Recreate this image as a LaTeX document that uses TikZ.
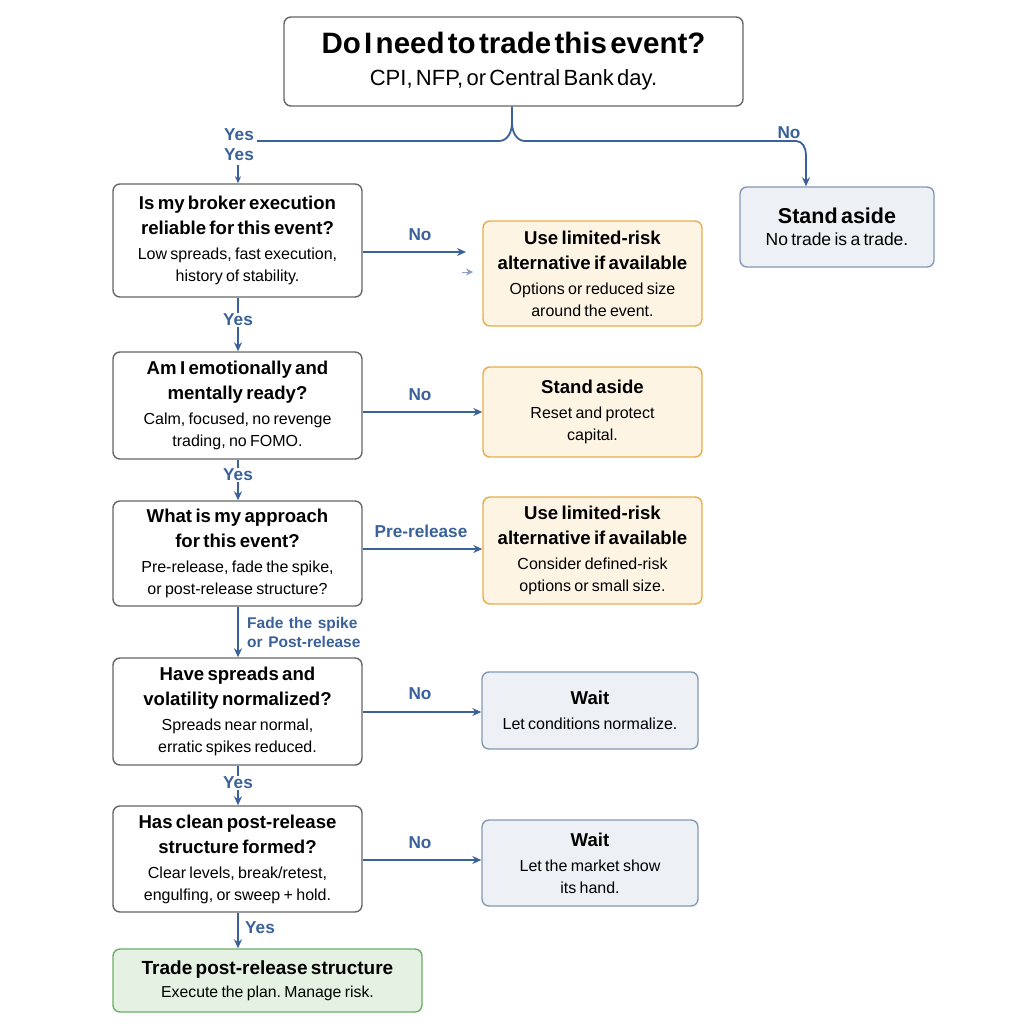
\documentclass[tikz,border=0pt]{standalone}
\usepackage{fontspec}
\setmainfont[WordSpace=1.3]{Liberation Sans}
\usetikzlibrary{arrows.meta}
\frenchspacing
\definecolor{ac}{HTML}{3A6199}
\definecolor{gb}{HTML}{666666}
\definecolor{ob}{HTML}{E9AC4C}
\definecolor{of}{HTML}{FDF4E4}
\definecolor{bb}{HTML}{8599B6}
\definecolor{bf}{HTML}{EDF1F6}
\definecolor{grb}{HTML}{6DAE69}
\definecolor{grf}{HTML}{E5F1E2}
\newcommand\bxt[2]{{\fontsize{18.6}{25}\selectfont\bfseries #1\par}\vspace{3pt}{\fontsize{16}{22}\selectfont #2\par}}
\begin{document}
\begin{tikzpicture}[x=1pt,y=-1pt,
  box/.style={draw, rounded corners=7pt, line width=1.4pt, align=center, inner sep=0pt},
  gbox/.style={box, draw=gb, fill=white, minimum width=249pt, text width=246pt},
  obox/.style={box, draw=ob, fill=of, minimum width=219pt, text width=216pt},
  bbox/.style={box, draw=bb, fill=bf},
  grbox/.style={box, draw=grb, fill=grf},
  arr/.style={draw=ac, line width=1.8pt, -{Stealth[length=9pt,width=8pt]}},
  ln/.style={draw=ac, line width=1.8pt},
  lab/.style={text=ac, font=\fontsize{17.2}{19}\selectfont\bfseries, inner sep=1pt, align=center}]
\useasboundingbox (0,0) rectangle (1024,1024);
\fill[white] (0,0) rectangle (1024,1024);

% top
\node[box, draw=gb, fill=white, minimum width=459pt, minimum height=89pt, text width=455pt] (top) at (513.5,61.5)
  {{\fontsize{29.5}{32}\selectfont\bfseries Do I need to trade this event?\par}\vspace{8pt}{\fontsize{22}{24}\selectfont CPI, NFP, or Central Bank day.\par}};

% left column
\node[gbox, minimum height=113pt] (q1) at (237.5,240.5)
  {\bxt{Is my broker execution\\reliable for this event?}{Low spreads, fast execution,\\history of stability.}};
\node[gbox, minimum height=107pt] (q2) at (237.5,405.5)
  {\bxt{Am I emotionally and\\mentally ready?}{Calm, focused, no revenge\\trading, no FOMO.}};
\node[gbox, minimum height=105pt] (q3) at (237.5,553.5)
  {\bxt{What is my approach\\for this event?}{Pre-release, fade the spike,\\or post-release structure?}};
\node[gbox, minimum height=107pt] (q4) at (237.5,711.5)
  {\bxt{Have spreads and\\volatility normalized?}{Spreads near normal,\\erratic spikes reduced.}};
\node[gbox, minimum height=106pt] (q5) at (237.5,859)
  {\bxt{Has clean post-release\\structure formed?}{Clear levels, break/retest,\\engulfing, or sweep + hold.}};
\node[grbox, minimum width=309pt, minimum height=63pt, text width=305pt] (trade) at (267.5,980.5)
  {{\fontsize{19}{22}\selectfont\bfseries Trade post-release structure\par}\vspace{5pt}{\fontsize{15.8}{18}\selectfont Execute the plan. Manage risk.\par}};

% right column
\node[obox, minimum height=105pt] (o1) at (592.5,273.5)
  {\bxt{Use limited-risk\\alternative if available}{Options or reduced size\\around the event.}};
\node[obox, minimum height=90pt] (o2) at (592.5,412)
  {\bxt{Stand aside}{Reset and protect\\capital.}};
\node[obox, minimum height=107pt] (o3) at (592.5,550.5)
  {\bxt{Use limited-risk\\alternative if available}{Consider defined-risk\\options or small size.}};
\node[bbox, minimum width=216pt, minimum height=77pt, text width=212pt] (w1) at (590,710.5)
  {\bxt{Wait}{Let conditions normalize.}};
\node[bbox, minimum width=216pt, minimum height=86pt, text width=212pt] (w2) at (590,863)
  {\bxt{Wait}{Let the market show\\its hand.}};
\node[bbox, minimum width=194pt, minimum height=80pt, text width=190pt] (sa) at (837,227)
  {{\fontsize{21.5}{24}\selectfont\bfseries Stand aside\par}\vspace{3pt}{\fontsize{17.5}{19}\selectfont No trade is a trade.\par}};

% brace from top
\coordinate (bj) at (512,123);
\coordinate (yl) at (257,141);
\coordinate (nr) at (796,141);
\coordinate (ys) at (238,165);
\draw[ln] (top.south -| bj) -- (bj) to[out=-90,in=0] (499,141) -- (yl);
\draw[ln] (bj) to[out=-90,in=180] (525,141) -- (nr) to[out=0,in=90] (806,155);
\draw[arr] (806,154) -- (sa.north -| 806,0);
\node[lab] (yes0) at (239,135) {Yes};
\node[lab] (yes00) at (239,155) {Yes};
\draw[arr, line width=1.4pt, -{Stealth[length=7pt,width=6pt]}] (ys) -- (q1.north -| ys);
\node[lab] (no0) at (789,133) {No};

% horizontal arrows
\draw[arr] (q1.east |- 0,252) -- (466,252);
\node[lab] at (420,235) {No};
\coordinate (st1) at (462,272);
\coordinate (st2) at (473,272);
\draw[draw=ac!60, line width=1pt, -{Stealth[length=7pt,width=7pt]}] (st1) -- (st2);
\draw[arr] (q2.east |- 0,412) -- (o2.west |- 0,412);
\node[lab] at (420,395) {No};
\draw[arr] (q3.east |- 0,549) -- (o3.west |- 0,549);
\node[lab] at (421,531) {Pre-release};
\draw[arr] (q4.east |- 0,712) -- (w1.west |- 0,712);
\node[lab] at (420,694) {No};
\draw[arr] (q5.east |- 0,860) -- (w2.west |- 0,860);
\node[lab] at (420,843) {No};

% vertical arrows
\draw[arr] (q1.south -| 238,0) -- (q2.north -| 238,0);
\node[lab, fill=white] at (238,320) {Yes};
\draw[arr] (q2.south -| 238,0) -- (q3.north -| 238,0);
\node[lab, fill=white] at (238,475) {Yes};
\draw[arr] (q3.south -| 238,0) -- (q4.north -| 238,0);
\node[lab, align=left, anchor=west, font=\fontsize{15.5}{19}\selectfont\bfseries] at (246,632) {Fade the spike\\or Post-release};
\draw[arr] (q4.south -| 238,0) -- (q5.north -| 238,0);
\node[lab, fill=white] at (238,783) {Yes};
\draw[arr] (q5.south -| 238,0) -- (trade.north -| 238,0);
\node[lab] at (260,928) {Yes};
\end{tikzpicture}
\end{document}
